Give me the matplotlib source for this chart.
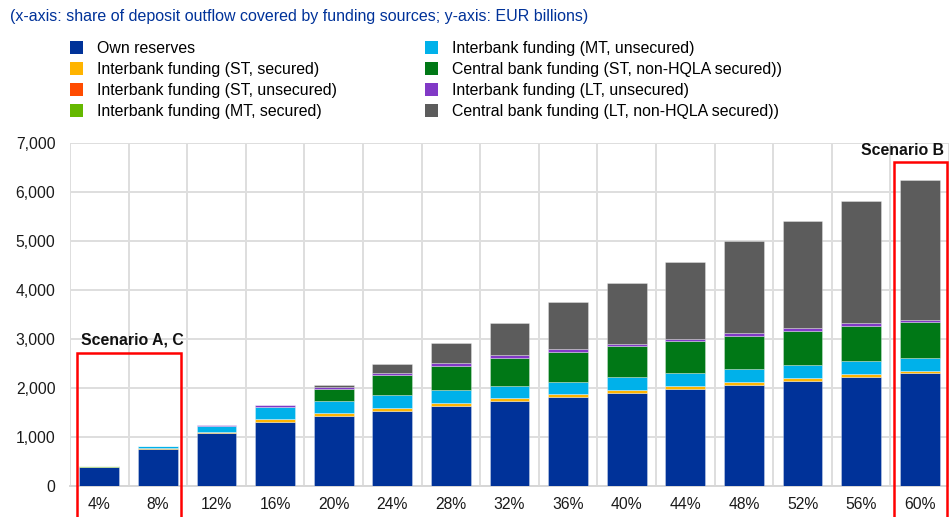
import numpy as np
import matplotlib
matplotlib.use("Agg")
import matplotlib.pyplot as plt
from matplotlib.patches import Rectangle, Patch
from matplotlib.ticker import FuncFormatter, FixedLocator

plt.rcParams['font.family'] = ['Liberation Sans', 'DejaVu Sans']

# --- data (EUR billions) ---
categories = ["4%", "8%", "12%", "16%", "20%", "24%", "28%", "32%",
              "36%", "40%", "44%", "48%", "52%", "56%", "60%"]
own_reserves = [380, 760, 1075, 1313, 1430, 1540, 1640, 1728, 1823, 1905, 1980, 2070, 2150, 2225, 2300]
ib_st_secured = [5, 20, 30, 45, 50, 55, 55, 60, 55, 55, 60, 55, 50, 55, 55]
ib_st_unsecured = [0, 0, 0, 0, 0, 0, 0, 0, 0, 0, 0, 0, 0, 0, 0]
ib_mt_secured = [25, 5, 0, 0, 0, 0, 0, 0, 0, 0, 0, 0, 0, 0, 0]
ib_mt_unsecured = [0, 40, 115, 250, 255, 260, 258, 258, 252, 260, 260, 260, 265, 265, 260]
cb_st_nonhqla = [0, 0, 0, 0, 240, 410, 503, 571, 612, 630, 655, 680, 700, 720, 740]
ib_lt_unsecured = [0, 0, 15, 40, 40, 45, 48, 48, 54, 50, 50, 55, 55, 55, 40]
cb_lt_nonhqla = [0, 0, 0, 0, 55, 180, 408, 653, 952, 1250, 1570, 1875, 2190, 2500, 2840]

series = [
    ("Own reserves", own_reserves, "#003299"),
    ("Interbank funding (ST, secured)", ib_st_secured, "#FFB400"),
    ("Interbank funding (ST, unsecured)", ib_st_unsecured, "#FF4B00"),
    ("Interbank funding (MT, secured)", ib_mt_secured, "#65B800"),
    ("Interbank funding (MT, unsecured)", ib_mt_unsecured, "#00B1EA"),
    ("Central bank funding (ST, non-HQLA secured))", cb_st_nonhqla, "#007816"),
    ("Interbank funding (LT, unsecured)", ib_lt_unsecured, "#8139C6"),
    ("Central bank funding (LT, non-HQLA secured))", cb_lt_nonhqla, "#5C5C5C"),
]

W, H = 949, 517
fig = plt.figure(figsize=(W / 100, H / 100), dpi=100)
ax = fig.add_axes([70 / W, 1 - 486 / H, 879 / W, 343 / H])

x = np.arange(len(categories))
bottom = np.zeros(len(categories))
handles = []
for label, vals, col in series:
    vals = np.array(vals, dtype=float)
    ax.bar(x, vals, width=0.68, bottom=bottom, color=col,
           edgecolor=(1, 1, 1, 0.3), linewidth=0.7, zorder=3)
    handles.append(Patch(facecolor=col, edgecolor='none', label=label))
    bottom += vals

ax.set_xlim(-0.5, len(categories) - 0.5)
ax.set_ylim(0, 7000)
ax.set_yticks(np.arange(0, 7001, 1000))
ax.yaxis.set_major_formatter(FuncFormatter(lambda v, p: f"{int(v):,}"))
ax.set_xticks(x)
ax.set_xticklabels(categories)
ax.xaxis.set_minor_locator(FixedLocator(np.arange(-0.5, len(categories), 1.0)))
ax.tick_params(axis='both', which='both', length=0, labelsize=11.3, colors='#1a1a1a')
ax.tick_params(axis='x', pad=8)
ax.tick_params(axis='y', pad=10.5)

ax.grid(axis='y', which='major', color='#dedede', linewidth=1.4, zorder=0)
ax.grid(axis='x', which='minor', color='#dedede', linewidth=1.4, zorder=0)
ax.grid(axis='x', which='major', visible=False)
ax.set_axisbelow(True)
for s in ['top', 'right', 'left']:
    ax.spines[s].set_visible(False)
ax.spines['bottom'].set_color('#d6d6d6')
ax.spines['bottom'].set_linewidth(1.4)

# scenario boxes
ia, ic = categories.index("4%"), categories.index("8%")
box_a = Rectangle((ia - 0.38, -700), (ic - ia) + 0.77, 2714 + 700, fill=False,
                  edgecolor='#FF0000', linewidth=1.8, clip_on=False, zorder=5)
ax.add_patch(box_a)
ax.text(ia - 0.31, 2980, "Scenario A, C", fontsize=11.4, fontweight='bold',
        ha='left', va='center', color='#111111')

ib = categories.index("60%")
box_b = Rectangle((ib - 0.44, -700), 0.91, 6612 + 700, fill=False,
                  edgecolor='#FF0000', linewidth=1.8, clip_on=False, zorder=5)
ax.add_patch(box_b)
ax.text(ib + 0.41, 6837, "Scenario B", fontsize=11.4, fontweight='bold',
        ha='right', va='center', color='#111111')

fig.text(10 / W, 1 - 17 / H,
         "(x-axis: share of deposit outflow covered by funding sources; y-axis: EUR billions)",
         fontsize=11.5, color='#003299', ha='left', va='center')

fig.legend(handles=handles, loc='upper left', bbox_to_anchor=(70 / W, 1 - 41 / H),
           bbox_transform=fig.transFigure, ncol=2, frameon=False, fontsize=11.4,
           handlelength=0.82, handleheight=0.8, handletextpad=0.87,
           columnspacing=5.6, labelspacing=0.38, borderpad=0, borderaxespad=0)

fig.savefig("out.png", dpi=100)
